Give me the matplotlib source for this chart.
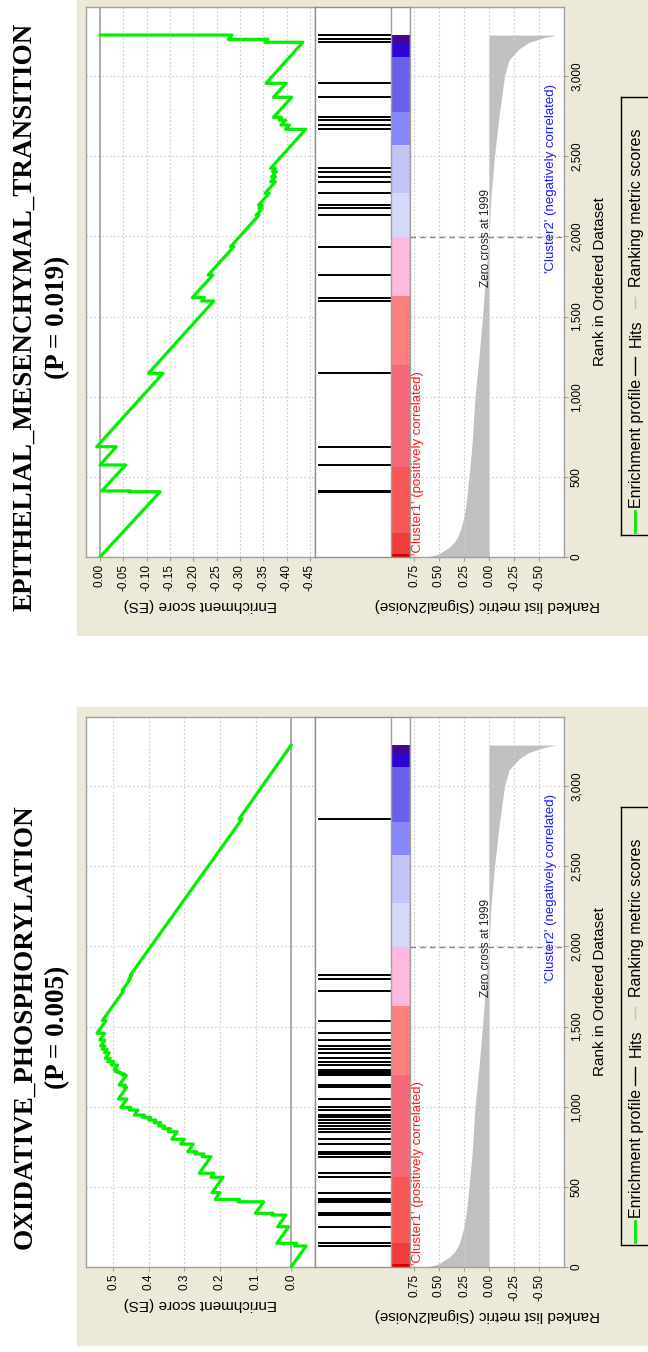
import numpy as np
import matplotlib.pyplot as plt
from matplotlib.patches import Rectangle

plt.rcParams['font.family'] = ['Liberation Sans', 'DejaVu Sans']

W, H = 648, 1352

rank_ticks = [0, 500, 1000, 1500, 2000, 2500, 3000]
zero_cross = 1999

# ranked list metric (Signal2Noise), grey area
metric_rank = [0, 8, 20, 40, 60, 90, 130, 180, 250, 350, 500, 700, 1000, 1250, 1500,
               1750, 1999, 2250, 2500, 2750, 3000, 3100, 3170, 3210, 3240, 3256]
metric_val = [0.62, 0.57, 0.50, 0.45, 0.40, 0.35, 0.31, 0.28, 0.25, 0.225, 0.20, 0.17, 0.14,
              0.10, 0.065, 0.035, 0.0, -0.02, -0.055, -0.10, -0.155, -0.20, -0.30, -0.40,
              -0.55, -0.67]

# heat bar under the hits
band_edges = [0, 20, 150, 560, 1200, 1630, 1998, 2269, 2570, 2775, 3120, 3205, 3256]
band_colors = ['#d60000', '#f03c3c', '#f65656', '#f4687a', '#fd8080', '#ffb9df',
               '#d7d7f9', '#c3c3f7', '#8787fb', '#6a5fe9', '#2d06d6', '#45078f']

# OXIDATIVE_PHOSPHORYLATION
ox_title = 'OXIDATIVE_PHOSPHORYLATION'
ox_p = '(P = 0.005)'
ox_hits = [131, 148, 251, 322, 328, 335, 405, 410, 416, 422, 464, 560, 585, 688, 705, 719,
           767, 797, 844, 863, 880, 900, 917, 934, 948, 979, 996, 1048, 1121, 1135, 1196,
           1205, 1212, 1218, 1229, 1260, 1281, 1302, 1337, 1358, 1379, 1416, 1458, 1537,
           1724, 1795, 1822, 2795]
ox_es_rank = [0, 131, 131, 148, 148, 251, 251, 324, 324, 335, 335, 407, 407, 422, 422,
              464, 464, 560, 560, 585, 585, 688, 688, 705, 705, 719, 719, 767, 767, 797, 797,
              844, 844, 863, 863, 880, 880, 900, 900, 917, 917, 934, 934, 948, 948, 979, 979,
              996, 996, 1048, 1048, 1121, 1121, 1135, 1135, 1196, 1196, 1205, 1205, 1212, 1212,
              1218, 1218, 1229, 1229, 1260, 1260, 1281, 1281, 1302, 1302, 1337, 1337, 1358,
              1358, 1379, 1379, 1416, 1416, 1458, 1458, 1537, 1537, 1724, 1724, 1795, 1795,
              1822, 1822, 2795, 2795, 3256]
ox_es = [0.0, -0.042, -0.010, -0.015, 0.040, 0.007, 0.038, 0.015, 0.055, 0.051, 0.100,
         0.077, 0.150, 0.145, 0.213, 0.200, 0.222, 0.191, 0.225, 0.217, 0.258, 0.225, 0.250,
         0.245, 0.270, 0.265, 0.290, 0.275, 0.310, 0.300, 0.335, 0.320, 0.345, 0.339, 0.360,
         0.355, 0.372, 0.366, 0.385, 0.380, 0.400, 0.395, 0.418, 0.413, 0.440, 0.430, 0.455,
         0.450, 0.478, 0.461, 0.485, 0.462, 0.470, 0.466, 0.483, 0.463, 0.472, 0.469, 0.478,
         0.476, 0.486, 0.484, 0.493, 0.489, 0.497, 0.487, 0.505, 0.498, 0.515, 0.508, 0.522,
         0.511, 0.524, 0.517, 0.530, 0.523, 0.535, 0.523, 0.537, 0.524, 0.545, 0.520, 0.530,
         0.470, 0.475, 0.452, 0.456, 0.447, 0.451, 0.138, 0.146, 0.0]
ox_es_ticks = [0.5, 0.4, 0.3, 0.2, 0.1, 0.0]
ox_es_labels = ['0.5', '0.4', '0.3', '0.2', '0.1', '0.0']

# EPITHELIAL_MESENCHYMAL_TRANSITION
emt_title = 'EPITHELIAL_MESENCHYMAL_TRANSITION'
emt_p = '(P = 0.019)'
emt_hits = [407, 412, 574, 688, 1146, 1597, 1618, 1759, 1936, 2133, 2175, 2196, 2269, 2341,
            2372, 2404, 2425, 2668, 2695, 2726, 2743, 2868, 2955, 3211, 3229, 3256]
emt_es_rank = [0, 407, 407, 412, 412, 574, 574, 688, 688, 1146, 1146, 1597, 1597, 1618, 1618,
               1759, 1759, 1936, 1936, 2133, 2133, 2175, 2175, 2196, 2196, 2269, 2269, 2341,
               2341, 2372, 2372, 2404, 2404, 2425, 2425, 2668, 2668, 2695, 2695, 2726, 2726,
               2743, 2743, 2868, 2868, 2955, 2955, 3211, 3211, 3229, 3229, 3256, 3256]
emt_es = [0.0, -0.129, -0.064, -0.066, -0.004, -0.055, 0.0, -0.035, 0.007, -0.135, -0.104,
          -0.244, -0.218, -0.224, -0.198, -0.242, -0.232, -0.287, -0.280, -0.341, -0.335,
          -0.348, -0.341, -0.348, -0.340, -0.363, -0.354, -0.376, -0.366, -0.376, -0.368,
          -0.378, -0.370, -0.376, -0.366, -0.441, -0.398, -0.406, -0.388, -0.398, -0.384,
          -0.389, -0.372, -0.411, -0.372, -0.399, -0.356, -0.435, -0.354, -0.360, -0.275,
          -0.283, 0.0]
emt_es_ticks = [0.0, -0.05, -0.10, -0.15, -0.20, -0.25, -0.30, -0.35, -0.40, -0.45]
emt_es_labels = ['0.00', '-0.05', '-0.10', '-0.15', '-0.20', '-0.25', '-0.30', '-0.35',
                 '-0.40', '-0.45']

metric_ticks = [0.75, 0.5, 0.25, 0.0, -0.25, -0.5]
metric_labels = ['0.75', '0.50', '0.25', '0.00', '-0.25', '-0.50']

beige = '#ece9d8'
edge = '#a0a0a0'
rank_max = 3431
tick_fs = 8.5


def box(x0, y0, x1, y1):
    return [x0 / W, 1 - y1 / H, (x1 - x0) / W, (y1 - y0) / H]


def frame(ax, color=edge):
    for s in ax.spines.values():
        s.set_color(color)
        s.set_linewidth(1)


fig = plt.figure(figsize=(W / 100, H / 100), dpi=100)


def panel(top, title, ptext, hits, es_rank, es, es_lim, es_ticks, es_labels):
    bot = top + 550
    fig.add_artist(Rectangle((77 / W, 1 - (top + 628) / H), (W - 77) / W, 638 / H,
                             transform=fig.transFigure, color=beige, zorder=-5))
    fig.text(25 / W, 1 - (top + 310) / H, title, rotation=90, ha='center', va='center',
             family='Liberation Serif', weight='bold', fontsize=19.5)
    fig.text(58 / W, 1 - (top + 310) / H, ptext, rotation=90, ha='center', va='center',
             family='Liberation Serif', weight='bold', fontsize=19.5)

    # running enrichment score
    ax = fig.add_axes(box(86, top, 315, bot))
    ax.plot(es, es_rank, color='#00f000', lw=2.3, zorder=3)
    ax.axvline(0, color=edge, lw=1.2)
    ax.set_xlim(*es_lim)
    ax.set_ylim(0, rank_max)
    ax.set_xticks(es_ticks)
    ax.set_xticklabels(es_labels, rotation=90, fontsize=tick_fs)
    ax.set_yticks(rank_ticks)
    ax.tick_params(axis='y', left=False, labelleft=False)
    ax.tick_params(axis='x', length=3, color=edge, pad=2)
    ax.grid(True, ls=(0, (1.5, 2)), color='#cccccc', lw=0.8)
    ax.set_xlabel('Enrichment score (ES)', rotation=180, fontsize=11, labelpad=5)
    frame(ax)

    # hits and heat bar
    ax = fig.add_axes(box(315, top, 410, bot))
    ax.hlines(hits, 0.03, 0.8, color='black', lw=1.4)
    ax.barh(band_edges[:-1], 0.2, height=np.diff(band_edges), left=0.8, align='edge',
            color=band_colors, lw=0)
    ax.axvline(0.8, color=edge, lw=1)
    ax.set_xlim(0, 1)
    ax.set_ylim(0, rank_max)
    ax.set_xticks([])
    ax.set_yticks([])
    frame(ax, '#909090')

    # ranked list metric
    ax = fig.add_axes(box(410, top, 564, bot))
    ax.fill_betweenx(metric_rank, 0, metric_val, color='#c0c0c0', lw=0)
    ax.axhline(zero_cross, color='#888888', lw=1, ls=(0, (4, 3)))
    ax.text(0.03, 1990, 'Zero cross at 1999', rotation=90, ha='center', va='center',
            fontsize=8.5, color='#202020')
    ax.text(0.71, 15, "'Cluster1' (positively correlated)", rotation=90, ha='center',
            va='bottom', fontsize=9.5, color='#ff1a1a')
    ax.text(-0.62, 2950, "'Cluster2' (negatively correlated)", rotation=90, ha='center',
            va='top', fontsize=9.5, color='#1a1aff')
    ax.set_xlim(0.79, -0.75)
    ax.set_ylim(0, rank_max)
    ax.set_xticks(metric_ticks)
    ax.set_xticklabels(metric_labels, rotation=90, fontsize=tick_fs)
    ax.set_yticks(rank_ticks)
    ax.set_yticklabels([f'{r:,}' for r in rank_ticks], rotation=90, fontsize=tick_fs,
                       va='center')
    ax.yaxis.tick_right()
    ax.yaxis.set_label_position('right')
    ax.tick_params(length=3, color=edge, pad=2)
    ax.grid(True, ls=(0, (1.5, 2)), color='#cccccc', lw=0.8)
    ax.set_ylabel('Rank in Ordered Dataset', rotation=90, fontsize=11, labelpad=7)
    ax.set_xlabel('Ranked list metric (Signal2Noise)', rotation=180, fontsize=11,
                  labelpad=5)
    frame(ax)

    # legend, drawn by hand so it can lie on its side
    lg = fig.add_axes(box(621, top + 90, 680, top + 528))
    lg.set_facecolor('none')
    lg.set_xlim(0, 59)
    lg.set_ylim(0, 438)
    lg.set_xticks([])
    lg.set_yticks([])
    frame(lg, 'black')
    lg.plot([14, 14], [3, 24], color='#00f000', lw=2)
    lg.text(15, 27, 'Enrichment profile', rotation=90, ha='center', va='bottom',
            fontsize=11.5)
    lg.plot([14, 14], [160, 178], color='black', lw=1)
    lg.text(15, 188, 'Hits', rotation=90, ha='center', va='bottom', fontsize=11.5)
    lg.plot([14, 14], [227, 238], color='#c0c0c0', lw=1)
    lg.text(15, 248, 'Ranking metric scores', rotation=90, ha='center', va='bottom',
            fontsize=11.5)


panel(717, ox_title, ox_p, ox_hits, ox_es_rank, ox_es, (0.576, -0.067),
      ox_es_ticks, ox_es_labels)
panel(7, emt_title, emt_p, emt_hits, emt_es_rank, emt_es, (0.03, -0.461),
      emt_es_ticks, emt_es_labels)

fig.savefig('out.png', dpi=100)
